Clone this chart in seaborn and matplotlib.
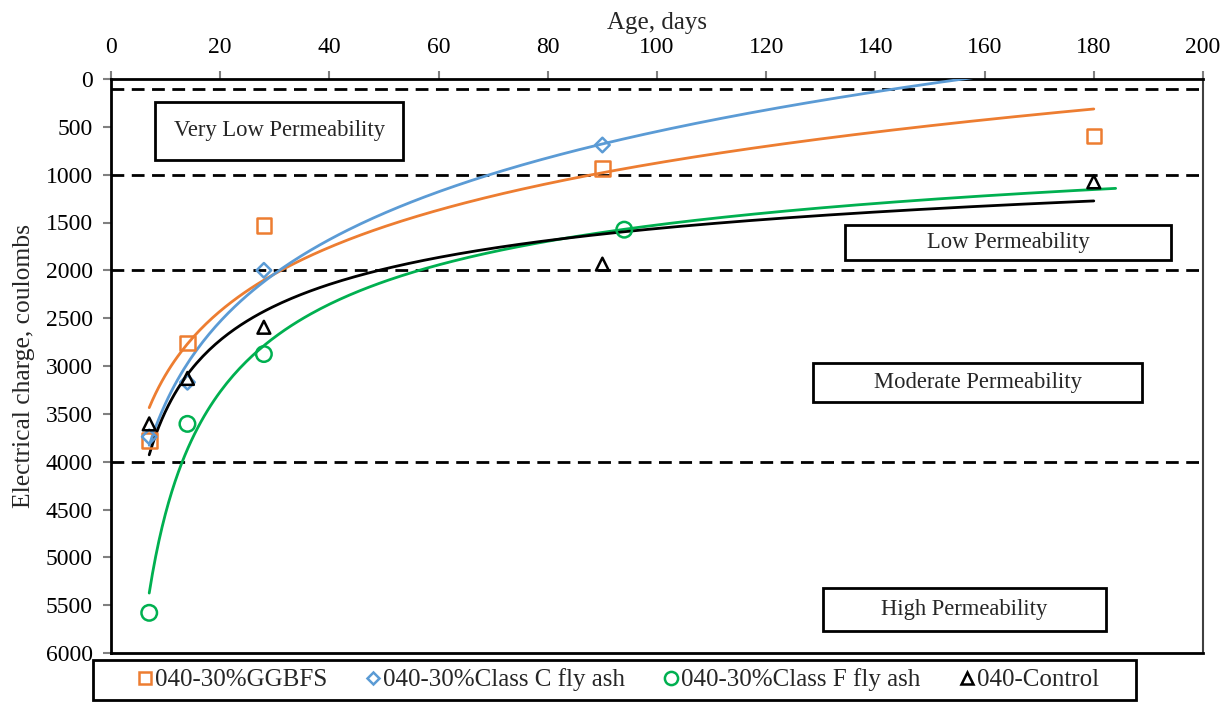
import numpy as np
import pandas as pd
import matplotlib
matplotlib.use("Agg")
import matplotlib.pyplot as plt
from matplotlib.patches import Rectangle
from matplotlib.lines import Line2D
import seaborn as sns

# ---- data ----
ggbfs_age = [7, 14, 28, 90, 180]
ggbfs_charge = [3780, 2760, 1530, 935, 595]
classc_age = [7, 14, 28, 90]
classc_charge = [3740, 3170, 2000, 690]
classf_age = [7, 14, 28, 94]
classf_charge = [5580, 3605, 2875, 1575]
control_age = [7, 14, 28, 90, 180]
control_charge = [3605, 3130, 2595, 1935, 1075]

series_names = ["040-30%GGBFS", "040-30%Class C fly ash", "040-30%Class F fly ash", "040-Control"]
limits = [100, 1000, 2000, 4000]
zone_labels = ["Very Low Permeability", "Low Permeability", "Moderate Permeability", "High Permeability"]
x_ticks = list(range(0, 201, 20))
y_ticks = list(range(0, 6001, 500))

sns.set_theme(style="white")
plt.rcParams['font.family'] = ['Liberation Serif', 'DejaVu Serif']

fig = plt.figure(figsize=(12.31, 7.02), dpi=100)
ax = fig.add_axes([111/1231, 1-653/702, (1203-111)/1231, (653-79)/702])

colors = ["#ED7D31", "#5B9BD5", "#00B050", "#000000"]
markers = ["s", "D", "o", "^"]
msizes = [110, 55, 125, 85]
ages = [ggbfs_age, classc_age, classf_age, control_age]
charges = [ggbfs_charge, classc_charge, classf_charge, control_charge]
fit_kind = ["log", "log", "power", "power"]
fit_end = [180, 180, 184, 180]

for name, a, c, col, mk, ms, kind, xe in zip(series_names, ages, charges, colors, markers, msizes, fit_kind, fit_end):
    a = np.array(a, float); c = np.array(c, float)
    xs = np.linspace(a.min(), xe, 300)
    if kind == "log":
        k, b = np.polyfit(np.log(a), c, 1)
        ys = k*np.log(xs) + b
    else:
        k, b = np.polyfit(np.log(a), np.log(c), 1)
        ys = np.exp(b) * xs**k
    sns.lineplot(x=xs, y=ys, ax=ax, color=col, lw=2.0, zorder=3, legend=False)
    df = pd.DataFrame({"age": a, "charge": c})
    sns.scatterplot(data=df, x="age", y="charge", ax=ax, marker=mk, s=ms,
                    facecolor="none", edgecolor=col, linewidth=1.8, zorder=4, legend=False)

for lim in limits:
    ax.axhline(lim, color="black", lw=2.0, ls=(0, (4.6, 2.7)), zorder=2)

# zone boxes (data coords)
boxes = [(8.1, 240, 53.5, 844), (134.4, 1526, 194.2, 1891), (128.6, 2969, 188.9, 3375), (130.4, 5323, 182.2, 5771)]
for (x0, y0, x1, y1), lab in zip(boxes, zone_labels):
    ax.add_patch(Rectangle((x0, y0), x1-x0, y1-y0, fill=True, facecolor="white",
                           edgecolor="black", lw=2.0, zorder=5))
    ax.text((x0+x1)/2, (y0+y1)/2, lab, ha="center", va="center", fontsize=16.3, zorder=6)

ax.set_xlim(0, 200)
ax.set_ylim(6000, 0)
ax.set_xticks(x_ticks)
ax.set_yticks(y_ticks)
ax.xaxis.tick_top()
ax.xaxis.set_label_position("top")
ax.tick_params(axis="both", which="major", direction="out", length=6, width=1.5,
               color="#808080", labelsize=17, labelcolor="black")
ax.tick_params(axis="x", top=True, bottom=False, pad=9)
ax.tick_params(axis="y", left=True, pad=7)
ax.set_xlabel("Age, days", fontsize=18, labelpad=6)
ax.set_ylabel("Electrical charge, coulombs", fontsize=18.4, labelpad=8)
for side in ["left", "top", "bottom"]:
    ax.spines[side].set_color("black"); ax.spines[side].set_linewidth(2.0)
ax.spines["right"].set_color("#404040"); ax.spines["right"].set_linewidth(1.5)

# legend box drawn separately
fig.patches.append(Rectangle((93/1231, 2/702), (1136-93)/1231, (42-2)/702,
                             transform=fig.transFigure, fill=False, edgecolor="black",
                             lw=2.0, figure=fig))
handles = [Line2D([], [], ls="none", marker=mk, markersize=ms, markerfacecolor="none",
                  markeredgecolor=col, markeredgewidth=1.8)
           for mk, ms, col in zip(markers, [9, 6, 9.5, 8], colors)]
leg = fig.legend(handles, series_names, loc="center", bbox_to_anchor=(618/1231, 1-680/702),
                 ncol=4, fontsize=18, frameon=False,
                 handlelength=0.6, handletextpad=0.1, columnspacing=1.55, borderpad=0.2)

fig.savefig("out.png", dpi=100)
